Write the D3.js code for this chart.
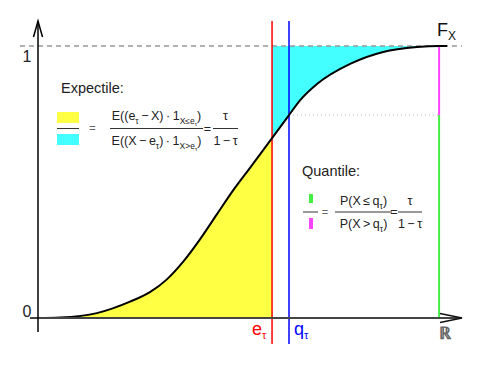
<!DOCTYPE html>
<html>
<head>
<meta charset="utf-8">
<script src="https://cdn.jsdelivr.net/npm/d3@7"></script>
<style>
  body { margin: 0; background: #fff; }
  text { font-family: "Liberation Sans", Arial, sans-serif; }
</style>
</head>
<body>
<script>
// CDF of X (x in arbitrary units 0..100)
var xVals = [0, 5.2, 13.9, 21.7, 26.4, 30.4, 34.3, 38.2, 42.1, 46.1, 50.0, 55.2, 59.2, 61.8, 65.8, 73.6, 81.4, 89.4, 94.6, 96.5];
var fVals = [0, 0.002, 0.018, 0.06, 0.095, 0.142, 0.208, 0.289, 0.379, 0.471, 0.552, 0.661, 0.746, 0.80, 0.86, 0.934, 0.978, 0.996, 1.0, 1.0];

var eTau = 55.2,   // expectile
    qTau = 59.2,   // quantile
    tauQ = 0.746,  // F(q_tau)
    xRight = 94.6; // where the green / magenta marker sits

var yTicks = [0, 1];

var data = xVals.map(function (d, i) { return { x: d, f: fVals[i] }; });

var width = 485, height = 366;

var svg = d3.select("body").append("svg")
    .attr("width", width)
    .attr("height", height);

var x = d3.scaleLinear().domain([0, 100]).range([38, 462]);
var y = d3.scaleLinear().domain([0, 1]).range([318, 46]);

var defs = svg.append("defs");
defs.append("clipPath").attr("id", "clipLeft")
    .append("rect").attr("x", 0).attr("y", 0)
    .attr("width", x(eTau)).attr("height", height);
defs.append("clipPath").attr("id", "clipRight")
    .append("rect").attr("x", x(eTau)).attr("y", 0)
    .attr("width", width - x(eTau)).attr("height", height);

// yellow: under the curve, left of e_tau
var areaBelow = d3.area()
    .x(function (d) { return x(d.x); })
    .y0(y(0))
    .y1(function (d) { return y(d.f); })
    .curve(d3.curveMonotoneX);

// cyan: above the curve, right of e_tau
var areaAbove = d3.area()
    .x(function (d) { return x(d.x); })
    .y0(y(1))
    .y1(function (d) { return y(d.f); })
    .curve(d3.curveMonotoneX);

svg.append("path").datum(data)
    .attr("d", areaBelow)
    .attr("fill", "#ffff44")
    .attr("clip-path", "url(#clipLeft)");

svg.append("path").datum(data)
    .attr("d", areaAbove)
    .attr("fill", "#44ffff")
    .attr("clip-path", "url(#clipRight)");

// dashed line at F = 1
svg.append("line")
    .attr("x1", 20).attr("x2", x(100))
    .attr("y1", y(1)).attr("y2", y(1))
    .attr("stroke", "#999").attr("stroke-width", 1.5)
    .attr("stroke-dasharray", "5,4");

// dotted line at F(q_tau)
svg.append("line")
    .attr("x1", x(qTau)).attr("x2", x(xRight))
    .attr("y1", y(tauQ)).attr("y2", y(tauQ))
    .attr("stroke", "#bbb").attr("stroke-width", 1)
    .attr("stroke-dasharray", "1,3");

// green / magenta split
svg.append("line")
    .attr("x1", x(xRight)).attr("x2", x(xRight))
    .attr("y1", y(0)).attr("y2", y(tauQ))
    .attr("stroke", "#44ee44").attr("stroke-width", 2);
svg.append("line")
    .attr("x1", x(xRight)).attr("x2", x(xRight))
    .attr("y1", y(tauQ)).attr("y2", y(1))
    .attr("stroke", "#ff44ff").attr("stroke-width", 2);

// e_tau and q_tau
svg.append("line")
    .attr("x1", x(eTau)).attr("x2", x(eTau))
    .attr("y1", 21).attr("y2", 344)
    .attr("stroke", "#ff0000").attr("stroke-width", 1.5);
svg.append("line")
    .attr("x1", x(qTau)).attr("x2", x(qTau))
    .attr("y1", 21).attr("y2", 344)
    .attr("stroke", "#0000ff").attr("stroke-width", 1.5);

// the CDF
var line = d3.line()
    .x(function (d) { return x(d.x); })
    .y(function (d) { return y(d.f); })
    .curve(d3.curveMonotoneX);

svg.append("path").datum(data)
    .attr("d", line)
    .attr("fill", "none")
    .attr("stroke", "#000")
    .attr("stroke-width", 2);

// axes
svg.append("line")
    .attr("x1", 30).attr("x2", x(100))
    .attr("y1", y(0)).attr("y2", y(0))
    .attr("stroke", "#444").attr("stroke-width", 2);
svg.append("path")
    .attr("d", "M" + (x(100) - 22) + "," + (y(0) - 4.5) + "L" + x(100) + "," + y(0) + "L" + (x(100) - 22) + "," + (y(0) + 4.5))
    .attr("fill", "none").attr("stroke", "#111").attr("stroke-width", 1.5);

svg.append("line")
    .attr("x1", x(0)).attr("x2", x(0))
    .attr("y1", 332).attr("y2", 21)
    .attr("stroke", "#000").attr("stroke-width", 1.5);
svg.append("path")
    .attr("d", "M" + (x(0) - 4.5) + ",37L" + x(0) + ",21L" + (x(0) + 4.5) + ",37")
    .attr("fill", "none").attr("stroke", "#000").attr("stroke-width", 1.5);

svg.selectAll(".ytick").data(yTicks).enter().append("text")
    .attr("class", "ytick")
    .attr("x", 27)
    .attr("y", function (d) { return d === 1 ? y(d) + 16 : y(d) - 1; })
    .attr("text-anchor", "middle")
    .attr("font-size", 16)
    .attr("fill", "#222")
    .text(function (d) { return d; });

// text with sub / sub-sub levels
function formula(parent, px, py, parts, anchor, color) {
    var t = parent.append("text")
        .attr("x", px).attr("y", py)
        .attr("text-anchor", anchor || "start")
        .attr("fill", color || "#222");
    var shift = [0, 3.5, 6];
    var cur = 0;
    parts.forEach(function (p) {
        var lvl = p[2] || 0;
        t.append("tspan")
            .attr("dy", shift[lvl] - cur)
            .attr("font-size", p[1])
            .text(p[0]);
        cur = shift[lvl];
    });
    return t;
}

formula(svg, 437, 36, [["F", 18], ["X", 12, 1]], "start", "#111");
svg.append("text")
    .attr("x", 439).attr("y", 339)
    .attr("font-family", "DejaVu Sans")
    .attr("font-size", 17)
    .attr("font-weight", "bold")
    .attr("fill", "#666")
    .text("\u211D");
formula(svg, 252, 335, [["e", 18], ["\u03C4", 11, 1]], "start", "#ff0000");
formula(svg, 294, 335, [["q", 18], ["\u03C4", 11, 1]], "start", "#0000ff");

// Expectile legend
svg.append("text").attr("x", 61).attr("y", 93)
    .attr("font-size", 14.5).attr("fill", "#222").text("Expectile:");
svg.append("rect").attr("x", 57).attr("y", 112).attr("width", 22).attr("height", 11).attr("fill", "#ffff44");
svg.append("rect").attr("x", 57).attr("y", 134).attr("width", 22).attr("height", 11).attr("fill", "#44ffff");
svg.append("line").attr("x1", 57).attr("x2", 79).attr("y1", 128.5).attr("y2", 128.5).attr("stroke", "#333");
svg.append("text").attr("x", 92.5).attr("y", 132).attr("text-anchor", "middle")
    .attr("font-size", 11).attr("fill", "#666").text("=");

var fs = 12.5, ss = 8.5, sss = 6;
formula(svg, 156.5, 120, [["E((e", fs], ["\u03C4", ss, 1], ["\u2009\u2212\u2009X)\u2009\u00B7\u20091", fs], ["X\u2264e", ss, 1], ["\u03C4", sss, 2], [")", fs]], "middle");
svg.append("line").attr("x1", 110).attr("x2", 203).attr("y1", 128.5).attr("y2", 128.5).attr("stroke", "#333");
formula(svg, 156.5, 145, [["E((X\u2009\u2212\u2009e", fs], ["\u03C4", ss, 1], [")\u2009\u00B7\u20091", fs], ["X>e", ss, 1], ["\u03C4", sss, 2], [")", fs]], "middle");
svg.append("text").attr("x", 207.5).attr("y", 132.5).attr("text-anchor", "middle")
    .attr("font-size", fs).attr("fill", "#222").text("=");
svg.append("text").attr("x", 225.5).attr("y", 120).attr("text-anchor", "middle")
    .attr("font-size", fs).attr("fill", "#222").text("\u03C4");
svg.append("line").attr("x1", 213).attr("x2", 238).attr("y1", 128.5).attr("y2", 128.5).attr("stroke", "#333");
svg.append("text").attr("x", 225.5).attr("y", 145).attr("text-anchor", "middle")
    .attr("font-size", fs).attr("fill", "#222").text("1\u2009\u2212\u2009\u03C4");

// Quantile legend
svg.append("text").attr("x", 302).attr("y", 176)
    .attr("font-size", 14.5).attr("fill", "#222").text("Quantile:");
svg.append("rect").attr("x", 309).attr("y", 194).attr("width", 4).attr("height", 9).attr("fill", "#44ee44");
svg.append("rect").attr("x", 309).attr("y", 218).attr("width", 4).attr("height", 11).attr("fill", "#ff44ff");
svg.append("line").attr("x1", 303).attr("x2", 318).attr("y1", 212).attr("y2", 212).attr("stroke", "#333");
svg.append("text").attr("x", 325).attr("y", 215.5).attr("text-anchor", "middle")
    .attr("font-size", 11).attr("fill", "#666").text("=");

formula(svg, 363.5, 205, [["P(X\u2009\u2264\u2009q", fs], ["\u03C4", ss, 1], [")", fs]], "middle");
svg.append("line").attr("x1", 335).attr("x2", 392).attr("y1", 212).attr("y2", 212).attr("stroke", "#333");
formula(svg, 363.5, 228, [["P(X\u2009>\u2009q", fs], ["\u03C4", ss, 1], [")", fs]], "middle");
svg.append("text").attr("x", 394).attr("y", 216).attr("text-anchor", "middle")
    .attr("font-size", fs).attr("fill", "#222").text("=");
svg.append("text").attr("x", 410).attr("y", 205).attr("text-anchor", "middle")
    .attr("font-size", fs).attr("fill", "#222").text("\u03C4");
svg.append("line").attr("x1", 398).attr("x2", 422).attr("y1", 212).attr("y2", 212).attr("stroke", "#333");
svg.append("text").attr("x", 410).attr("y", 228).attr("text-anchor", "middle")
    .attr("font-size", fs).attr("fill", "#222").text("1\u2009\u2212\u2009\u03C4");
</script>
</body>
</html>
